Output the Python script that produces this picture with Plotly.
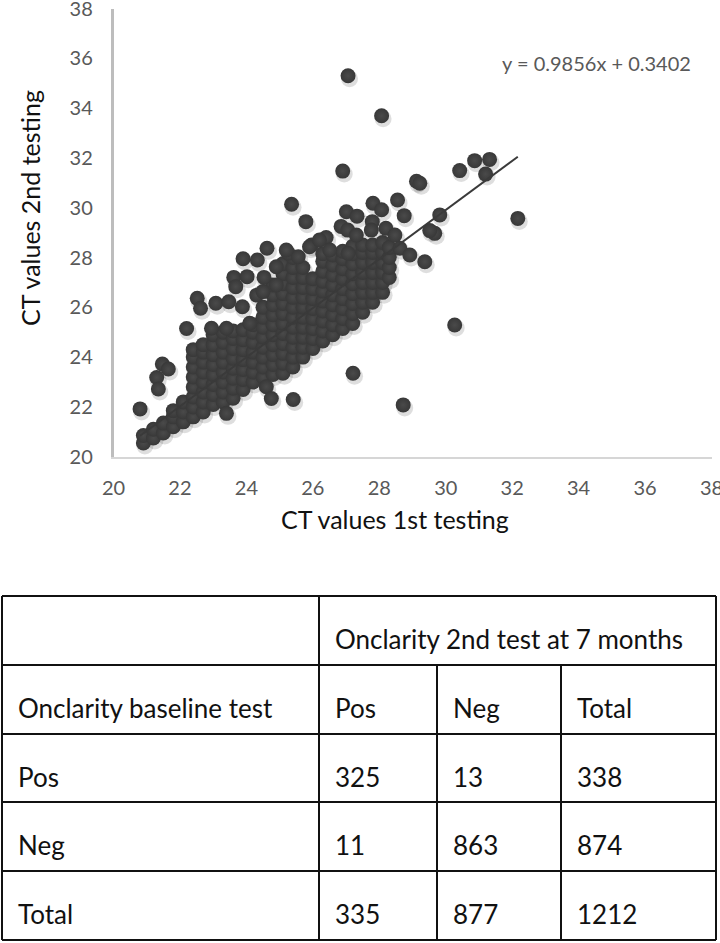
import plotly.graph_objects as go

# ---------------- data ----------------
# dense core of the cloud, read column by column (x position -> y values)
core_x = [20.9, 21.2, 21.5, 21.8, 22.1, 22.4, 22.7, 23.0, 23.3, 23.6, 23.9, 24.2, 24.5,
          24.8, 25.1, 25.4, 25.7, 26.0, 26.3, 26.6, 26.9, 27.2, 27.5, 27.8, 28.1, 28.3]
core_y = [
    [20.55, 20.85],
    [20.75, 21.1],
    [20.95, 21.35],
    [21.2, 21.6, 21.85],
    [21.4, 21.8, 22.2],
    [21.6, 22.0, 22.4, 22.8, 23.2, 23.6, 24.0, 24.3],
    [21.8, 22.2, 22.6, 23.0, 23.4, 23.8, 24.2, 24.5],
    [22.1, 22.5, 22.9, 23.3, 23.7, 24.1, 24.5, 24.9],
    [22.2, 22.6, 23.0, 23.4, 23.8, 24.2, 24.6, 25.0],
    [22.35, 22.75, 23.15, 23.55, 23.95, 24.35, 24.75, 25.05],
    [22.7, 23.1, 23.5, 23.9, 24.3, 24.7, 25.1],
    [23.0, 23.4, 23.8, 24.2, 24.6, 25.0, 25.3],
    [23.2, 23.6, 24.0, 24.4, 24.8, 25.2, 25.6, 26.0],
    [23.3, 23.7, 24.1, 24.5, 24.9, 25.3, 25.7, 26.1, 26.5, 26.9],
    [23.35, 23.75, 24.15, 24.55, 24.95, 25.35, 25.75, 26.15, 26.55, 26.95, 27.35, 27.75],
    [23.6, 24.0, 24.4, 24.8, 25.2, 25.6, 26.0, 26.4, 26.8, 27.2, 27.6, 28.0],
    [24.0, 24.4, 24.8, 25.2, 25.6, 26.0, 26.4, 26.8, 27.2, 27.6],
    [24.35, 24.75, 25.15, 25.55, 25.95, 26.35, 26.75, 27.15],
    [24.65, 25.05, 25.45, 25.85, 26.25, 26.65, 27.05, 27.45, 27.85, 28.15],
    [24.9, 25.3, 25.7, 26.1, 26.5, 26.9, 27.3, 27.7, 28.1],
    [25.15, 25.55, 25.95, 26.35, 26.75, 27.15, 27.55, 27.95, 28.25],
    [25.35, 25.75, 26.15, 26.55, 26.95, 27.35, 27.75, 28.15, 28.45],
    [25.8, 26.2, 26.6, 27.0, 27.4, 27.8, 28.2, 28.5],
    [26.2, 26.6, 27.0, 27.4, 27.8, 28.2, 28.5],
    [26.6, 27.0, 27.4, 27.8, 28.2, 28.6],
    [27.2, 27.6, 28.0, 28.4],
]

# scattered points around the core (x = 1st testing, y = 2nd testing)
extra_points = [
    (27.06, 35.30), (28.07, 33.69), (26.90, 31.47), (29.12, 31.06), (29.22, 30.98),
    (30.42, 31.49), (30.87, 31.89), (31.32, 31.94), (31.20, 31.35), (32.17, 29.57),
    (29.82, 29.71), (29.67, 28.97), (29.52, 29.08), (30.27, 25.29), (28.72, 22.08),
    (27.21, 23.35), (25.41, 22.30),
    (27.01, 29.84), (27.33, 29.66), (27.81, 30.18), (28.07, 29.92), (28.55, 30.31),
    (28.75, 29.68), (26.85, 29.25), (27.05, 29.10), (27.31, 28.90), (27.79, 29.44),
    (27.76, 29.10), (28.20, 29.17), (28.47, 28.90), (28.62, 28.37), (28.92, 28.10),
    (29.37, 27.83),
    (25.36, 30.14), (25.79, 29.44),
    (26.40, 28.80), (25.96, 28.50), (26.51, 28.30), (27.06, 28.17), (25.26, 28.17),
    (25.56, 28.03), (24.62, 28.37), (25.20, 28.30), (25.90, 28.43), (26.20, 28.70),
    (23.90, 27.95), (24.33, 27.90), (23.62, 27.20), (24.02, 27.23), (23.68, 26.83),
    (24.53, 27.20), (22.52, 26.36), (22.62, 25.96), (23.08, 26.16), (23.47, 26.22),
    (23.88, 26.02), (24.31, 26.49), (24.50, 26.63), (24.90, 27.63), (24.90, 26.90),
    (22.20, 25.15), (22.95, 25.16), (23.40, 25.16), (24.10, 25.36),
    (20.80, 21.92), (21.47, 23.72), (21.65, 23.52), (21.30, 23.18), (21.35, 22.72),
    (24.60, 22.81), (24.75, 22.34), (23.40, 21.74),
]

trend_slope = 0.9856
trend_intercept = 0.3402
equation_label = "y = 0.9856x + 0.3402"

axis_ticks = [20, 22, 24, 26, 28, 30, 32, 34, 36, 38]
x_title = "CT values 1st testing"
y_title = "CT values 2nd testing"

table_header_top = "Onclarity 2nd test at 7 months"
table_row_label_header = "Onclarity baseline test"
table_columns = ["Pos", "Neg", "Total"]
table_rows = ["Pos", "Neg", "Total"]
table_values = [[325, 13, 338], [11, 863, 874], [335, 877, 1212]]

# ---------------- build ----------------
xs, ys = [], []
for cx, col in zip(core_x, core_y):
    for v in col:
        xs.append(cx)
        ys.append(v)
for px_, py_ in extra_points:
    xs.append(px_)
    ys.append(py_)

W, H = 720, 943
FONT = "Lato"

def fx(p):
    return p / W

def fy(p):
    return 1 - p / H

X0, X1 = 113.5, 711.5   # pixel x of 20 and 38
Y0, Y1 = 456.7, 8.5     # pixel y of 20 and 38

fig = go.Figure()

# soft drop shadow (same data, on a hidden axis pair nudged down-right)
fig.add_trace(go.Scatter(
    x=xs, y=ys, mode="markers", xaxis="x", yaxis="y",
    marker=dict(size=17, color="rgba(0,0,0,0.13)", line=dict(width=0)),
    hoverinfo="skip", showlegend=False))

fig.add_trace(go.Scatter(
    x=xs, y=ys, mode="markers", xaxis="x2", yaxis="y2",
    marker=dict(size=15, color="#383838",
                gradient=dict(type="radial", color="#4a4a4a"),
                line=dict(width=0)),
    showlegend=False))

tx = [min(xs), max(xs)]
ty = [trend_slope * v + trend_intercept for v in tx]
fig.add_trace(go.Scatter(x=tx, y=ty, mode="lines", xaxis="x2", yaxis="y2",
                         line=dict(color="#3a3a3a", width=2), showlegend=False))

tickfont = dict(family=FONT, size=20, color="#595959")
hidden = dict(visible=False, showgrid=False, zeroline=False, automargin=False)
fig.update_layout(
    width=W, height=H,
    margin=dict(l=0, r=0, t=0, b=0, autoexpand=False),
    paper_bgcolor="white", plot_bgcolor="rgba(0,0,0,0)",
    xaxis=dict(range=[20, 38], domain=[fx(X0 + 1.5), fx(X1 + 1.5)], anchor="y", **hidden),
    yaxis=dict(range=[20, 38], domain=[fy(Y0 + 3), fy(Y1 + 3)], anchor="x", **hidden),
    xaxis2=dict(range=[20, 38], domain=[fx(X0), fx(X1)], anchor="y2",
                tickvals=axis_ticks, ticks="", showgrid=False, zeroline=False,
                showline=True, linecolor="#d6d6d6", linewidth=2, automargin=False,
                tickfont=tickfont, ticklabelstandoff=12, ticklabeloverflow="allow"),
    yaxis2=dict(range=[20, 38], domain=[fy(Y0), fy(Y1)], anchor="x2",
                tickvals=axis_ticks, ticks="", showgrid=False, zeroline=False,
                showline=True, linecolor="#bdbdbd", linewidth=2.5, automargin=False,
                tickfont=tickfont, ticklabelstandoff=14, ticklabeloverflow="allow"),
)

annotations = [
    dict(text=equation_label, x=fx(596), y=fy(63), xref="paper", yref="paper",
         showarrow=False, font=dict(family=FONT, size=20, color="#595959"),
         xanchor="center", yanchor="middle"),
    dict(text=x_title, x=fx(395), y=fy(519), xref="paper", yref="paper",
         showarrow=False, font=dict(family=FONT, size=25, color="#111111"),
         xanchor="center", yanchor="middle"),
    dict(text=y_title, x=fx(30), y=fy(208), xref="paper", yref="paper",
         showarrow=False, textangle=-90, font=dict(family=FONT, size=25, color="#111111"),
         xanchor="center", yanchor="middle"),
]

# ---------------- table ----------------
row_lines = [596, 665, 734, 802, 871, 940]
col_lines = [2, 319, 437, 561, 716]
shapes = []
lw = 2
for i, yy in enumerate(row_lines):
    shapes.append(dict(type="line", xref="paper", yref="paper",
                       x0=fx(col_lines[0]), x1=fx(col_lines[-1]), y0=fy(yy), y1=fy(yy),
                       line=dict(color="#111111", width=lw)))
for j, xx in enumerate(col_lines):
    top = row_lines[0] if j in (0, 1, len(col_lines) - 1) else row_lines[1]
    shapes.append(dict(type="line", xref="paper", yref="paper",
                       x0=fx(xx), x1=fx(xx), y0=fy(top), y1=fy(row_lines[-1]),
                       line=dict(color="#111111", width=lw)))

cell_font = dict(family=FONT, size=26, color="#111111")
PAD, TXT = 14, 43

def cell(text, col_px, row_px):
    annotations.append(dict(text=str(text), x=fx(col_px + PAD), y=fy(row_px + TXT),
                            xref="paper", yref="paper", showarrow=False,
                            xanchor="left", yanchor="middle", font=cell_font))

cell(table_header_top, col_lines[1], row_lines[0])
cell(table_row_label_header, col_lines[0], row_lines[1])
for j, name in enumerate(table_columns):
    cell(name, col_lines[1 + j], row_lines[1])
for i, name in enumerate(table_rows):
    cell(name, col_lines[0], row_lines[2 + i])
    for j, v in enumerate(table_values[i]):
        cell(v, col_lines[1 + j], row_lines[2 + i])

fig.update_layout(shapes=shapes, annotations=annotations)
fig.write_html(
    "out.html",
    config={"displayModeBar": False},
    post_script="document.body.style.margin='0';document.body.style.overflow='hidden';",
)
